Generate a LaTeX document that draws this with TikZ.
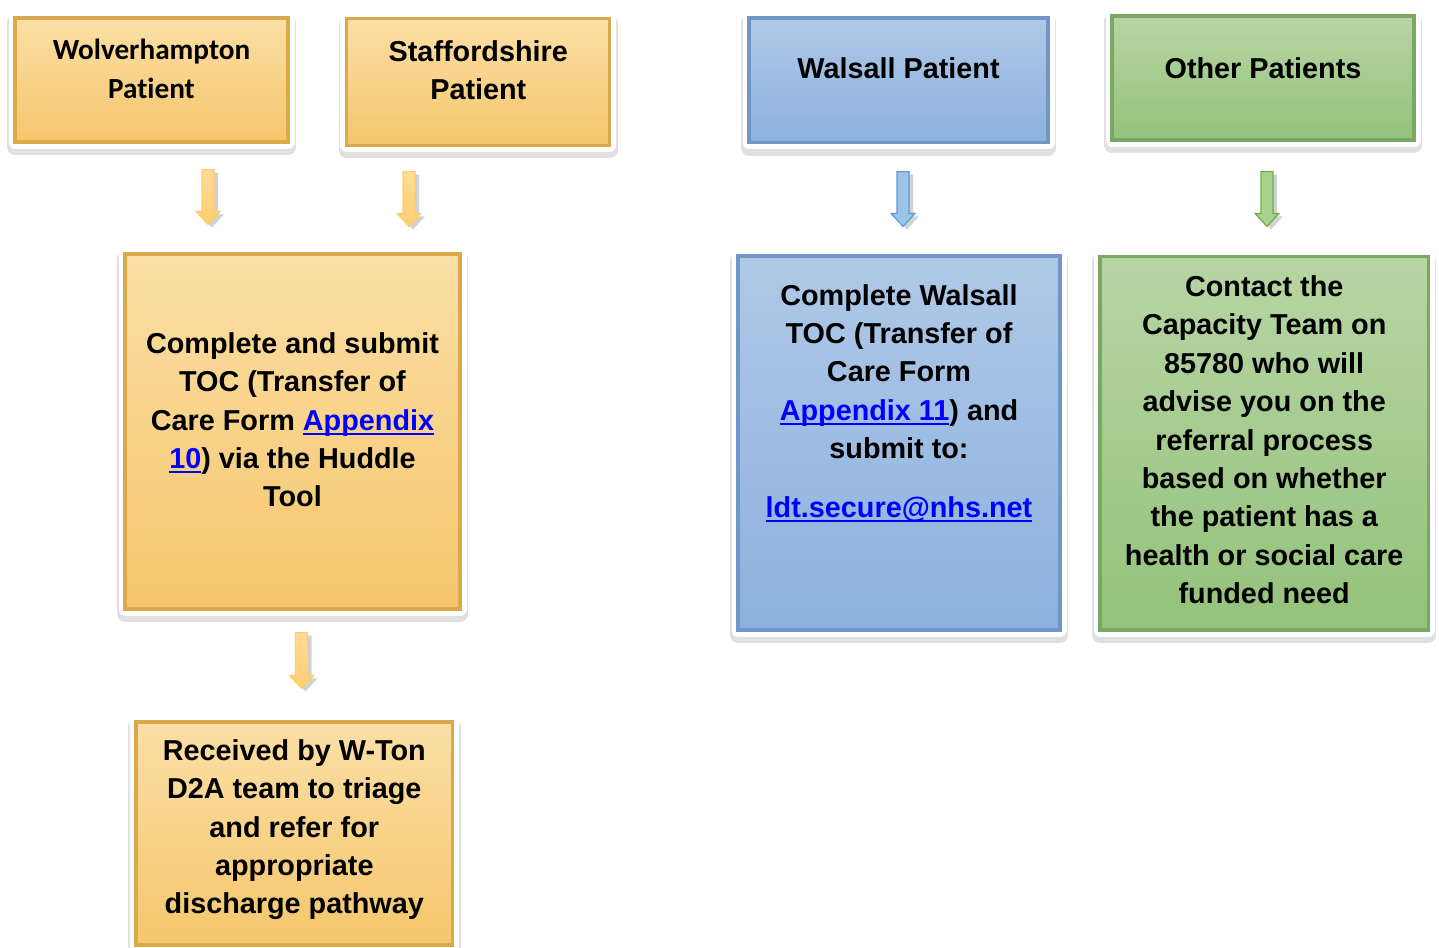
\documentclass[tikz,border=0pt]{standalone}
\usepackage{fontspec}
\setmainfont{Liberation Sans}
\newfontfamily\calfont{Carlito}[Ligatures=NoCommon]
\usetikzlibrary{calc,shadows}

\definecolor{orangetop}{HTML}{FBDFA6}
\definecolor{orangebot}{HTML}{F5C66C}
\definecolor{orangeedge}{HTML}{D9A94B}
\definecolor{bluetop}{HTML}{AFC8E7}
\definecolor{bluebot}{HTML}{8CB1DE}
\definecolor{blueedge}{HTML}{7096C5}
\definecolor{greentop}{HTML}{B7D5A4}
\definecolor{greenbot}{HTML}{94C27B}
\definecolor{greenedge}{HTML}{79A863}
\definecolor{linkblue}{HTML}{0000FF}
\definecolor{arrowtop}{HTML}{FFDC96}
\definecolor{arrowbot}{HTML}{FFCD70}
\definecolor{arrowblue}{HTML}{9DC3E6}
\definecolor{arrowblueedge}{HTML}{5B9BD5}
\definecolor{arrowgreen}{HTML}{A9D18E}
\definecolor{arrowgreenedge}{HTML}{70AD47}

\newcommand{\hlink}[1]{\textcolor{linkblue}{\setbox0\hbox{#1}\rlap{\rule[-2.3pt]{\wd0}{0.9pt}}\box0}}

\begin{document}
\begin{tikzpicture}[x=0.5pt,y=-0.5pt,
  boxtext/.style={font=\fontsize{14.4}{19.2}\selectfont\bfseries, align=center, text=black},
  flowbox/.style={line width=1.6pt, inner sep=0pt,
    preaction={draw=black, opacity=.12, line width=8pt, line join=round, transform canvas={yshift=-2.5pt}},
    preaction={draw=white, line width=6.5pt, line join=round}},
  orangebox/.style={flowbox, draw=orangeedge, top color=orangetop, bottom color=orangebot},
  bluebox/.style={flowbox, draw=blueedge, top color=bluetop, bottom color=bluebot},
  greenbox/.style={flowbox, draw=greenedge, top color=greentop, bottom color=greenbot},
  blockarrow/.style={line width=0.6pt,
    drop shadow={shadow xshift=2pt, shadow yshift=-1.5pt, opacity=.3, fill=black!60},
    to path={let \p1=(\tikztostart), \p2=(\tikztotarget) in
      (\x1-3pt,\y1) -- (\x1+3pt,\y1) -- (\x1+3pt,\y2+6.5pt) -- (\x1+6pt,\y2+6.5pt)
      -- (\x1,\y2) -- (\x1-6pt,\y2+6.5pt) -- (\x1-3pt,\y2+6.5pt) -- cycle}},
  orangearrow/.style={blockarrow, draw=arrowbot, top color=arrowtop, bottom color=arrowbot},
  bluearrow/.style={blockarrow, draw=arrowblueedge, fill=arrowblue},
  greenarrow/.style={blockarrow, draw=arrowgreenedge, fill=arrowgreen}]

  \useasboundingbox (0,0) rectangle (1439,947);

  % top row
  \node[orangebox, minimum width=136.5pt, minimum height=62pt,
    label={[boxtext, font=\calfont\fontsize{14.6}{19.25}\selectfont\bfseries, yshift=5.5pt]center:{Wolverhampton\\Patient}}] (wolv) at (151.5,80) {};
  \node[orangebox, minimum width=131.5pt, minimum height=63.5pt,
    label={[boxtext, yshift=5.7pt]center:{Staffordshire\\Patient}}] (staff) at (478.3,81.7) {};
  \node[bluebox, minimum width=149.5pt, minimum height=62.3pt,
    label={[boxtext, yshift=6.2pt]center:{Walsall Patient}}] (wals) at (898.5,80.3) {};
  \node[greenbox, minimum width=151pt, minimum height=62pt,
    label={[boxtext, yshift=5pt]center:{Other Patients}}] (other) at (1263,78) {};

  % middle row
  \node[orangebox, minimum width=167.5pt, minimum height=177.5pt,
    label={[boxtext, yshift=5.8pt]center:{Complete and submit\\TOC (Transfer of\\Care Form \hlink{Appendix}\\\hlink{10}) via the Huddle\\Tool}}] (toc) at (292.5,431.5) {};
  \node[bluebox, minimum width=161pt, minimum height=187pt,
    label={[boxtext, yshift=20pt]center:{Complete Walsall\\TOC (Transfer of\\Care Form\\\hlink{Appendix 11}) and\\submit to:\\[10pt]\hlink{ldt.secure@nhs.net}}}] (wtoc) at (899,443) {};
  \node[greenbox, minimum width=164.2pt, minimum height=186.7pt,
    label={[boxtext, yshift=1.8pt]center:{Contact the\\Capacity Team on\\85780 who will\\advise you on the\\referral process\\based on whether\\the patient has a\\health or social care\\funded need}}] (cap) at (1264.2,443.3) {};

  % bottom
  \node[orangebox, minimum width=158.3pt, minimum height=111.5pt,
    label={[boxtext, yshift=1.9pt]center:{Received by W-Ton\\D2A team to triage\\and refer for\\appropriate\\discharge pathway}}] (recv) at (294.3,833.5) {};

  % arrows
  \draw[orangearrow] ([shift={(56.5,26)}]wolv.south) to ([shift={(-84.5,-28)}]toc.north);
  \draw[orangearrow] ([shift={(-69.3,24.8)}]staff.south) to ([shift={(116.5,-26)}]toc.north);
  \draw[orangearrow] ([shift={(9,22)}]toc.south) to ([shift={(7.2,-32)}]recv.north);
  \draw[bluearrow] ([shift={(4.5,27.4)}]wals.south) to ([shift={(4,-28)}]wtoc.north);
  \draw[greenarrow] ([shift={(4,30)}]other.south) to ([shift={(2.8,-28.6)}]cap.north);
\end{tikzpicture}
\end{document}
